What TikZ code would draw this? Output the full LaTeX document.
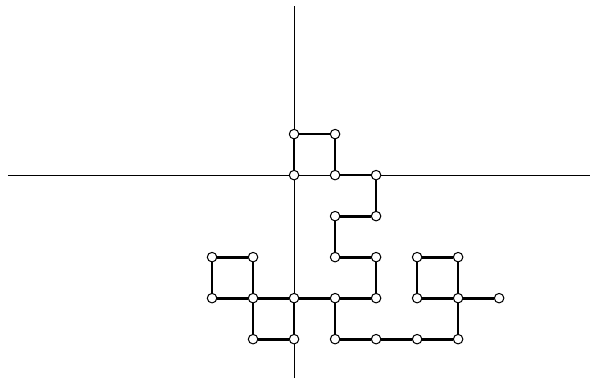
\documentclass[tikz,border=0pt]{standalone}
\usepackage{tikz}
\usetikzlibrary{positioning}

\tikzset{
  axis/.style={line width=0.6pt},
  edge/.style={line width=1.9pt},
  vtx/.style={circle,draw,fill=white,line width=0.7pt,inner sep=0pt,minimum size=6.6pt}
}

\begin{document}
\begin{tikzpicture}
        \useasboundingbox (-7.17,-4.98) rectangle (7.24,4.27);

        % Axes
        \coordinate (xl) at (-6.98,0);
        \coordinate (xr) at (7.22,0);
        \coordinate (yb) at (0,-4.95);
        \coordinate (yt) at (0,4.12);
        \draw[axis] (xl) -- (xr);
        \draw[axis] (yb) -- (yt);

        % Vertices
        \foreach \x/\y/\n in {0/1/A, 1/1/B, 0/0/O, 1/0/C, 2/0/D,
                              1/-1/E, 2/-1/F, 1/-2/G, 2/-2/H,
                              -2/-2/I, -1/-2/J, 3/-2/K, 4/-2/L,
                              -2/-3/M, -1/-3/N, 0/-3/P, 1/-3/Q, 2/-3/R,
                              3/-3/S, 4/-3/T, 5/-3/U,
                              -1/-4/V, 0/-4/W, 1/-4/X, 2/-4/Y, 3/-4/Z, 4/-4/AA}
          \node[vtx] (\n) at (\x,\y) {};

        % Edges
        \foreach \a/\b in {O/A, A/B, B/C, C/D, D/F, F/E, E/G, G/H, H/R,
                           R/Q, Q/P, P/N, N/M, M/I, I/J, J/N, N/V, V/W, W/P,
                           Q/X, X/Y, Y/Z, Z/AA, AA/T, T/S, S/K, K/L, L/T, T/U}
          \draw[edge] (\a) -- (\b);
      \end{tikzpicture}
\end{document}
